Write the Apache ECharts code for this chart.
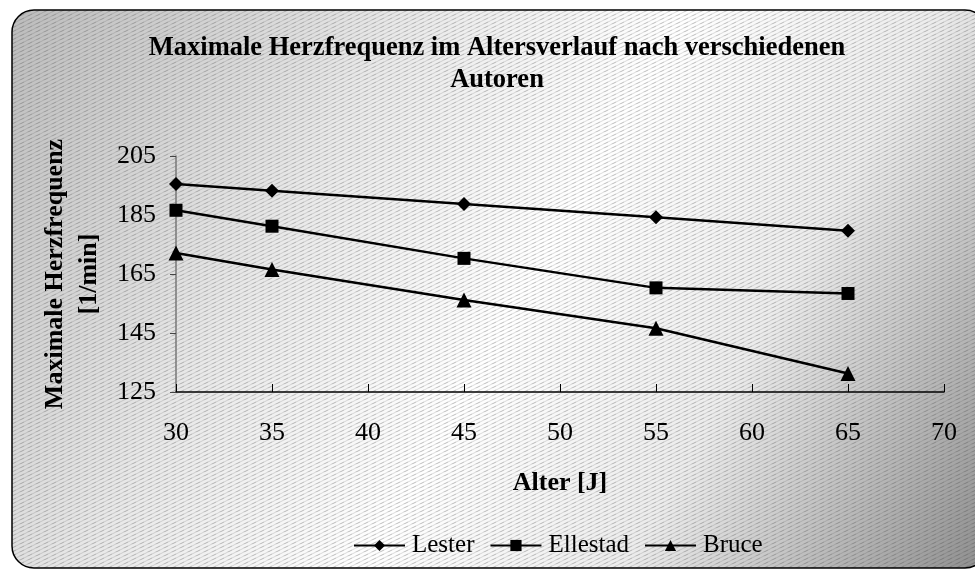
<!DOCTYPE html>
<html>
<head>
<meta charset="utf-8">
<script src="https://cdn.jsdelivr.net/npm/echarts@6/dist/echarts.min.js"></script>
<style>
  html, body { margin: 0; padding: 0; background: #fff; }
  #chart { width: 975px; height: 571px; }
</style>
</head>
<body>
<div id="chart"></div>
<script>
// Alter [J] and max. heart rate per author
const ages = [30, 35, 45, 55, 65]
const lester = [195.5, 193.2, 188.7, 184.2, 179.7]
const ellestad = [186.6, 181.2, 170.3, 160.3, 158.4]
const bruce = [172.1, 166.5, 156.2, 146.6, 131.3]
const seriesNames = ['Lester', 'Ellestad', 'Bruce']
const markers = ['diamond', 'rect', 'triangle']
const markerSizes = [14, 13, 15]

const serif = '"Liberation Serif", "DejaVu Serif", serif'

// hatch tile for the background
function hatchTile() {
  const c = document.createElement('canvas')
  c.width = 8
  c.height = 4
  const ctx = c.getContext('2d')
  ctx.strokeStyle = 'rgba(60,60,60,0.18)'
  ctx.lineWidth = 1
  ctx.beginPath()
  ctx.moveTo(-8, 6); ctx.lineTo(8, -2)
  ctx.moveTo(0, 6); ctx.lineTo(16, -2)
  ctx.moveTo(-8, 10); ctx.lineTo(8, 2)
  ctx.stroke()
  return c
}

const chart = echarts.init(document.getElementById('chart'))

const pairs = [lester, ellestad, bruce].map(vals => vals.map((v, i) => [ages[i], v]))

chart.setOption({
  animation: false,
  graphic: [
    {
      type: 'rect', z: -10, silent: true,
      shape: { x: 12, y: 10, width: 975, height: 558, r: 22 },
      style: {
        fill: new echarts.graphic.LinearGradient(0, 0, 1, 1, [
          { offset: 0, color: '#bcbcbc' },
          { offset: 0.3, color: '#e8e8e8' },
          { offset: 0.52, color: '#ffffff' },
          { offset: 0.72, color: '#ececec' },
          { offset: 1, color: '#8e8e8e' }
        ])
      }
    },
    {
      type: 'rect', z: -9, silent: true,
      shape: { x: 12, y: 10, width: 975, height: 558, r: 22 },
      style: { fill: { image: hatchTile(), repeat: 'repeat' }, stroke: '#000', lineWidth: 1.5 }
    }
  ],
  title: {
    text: 'Maximale Herzfrequenz im Altersverlauf nach verschiedenen\nAutoren',
    left: 492,
    top: 27,
    textAlign: 'center',
    textStyle: { fontFamily: serif, fontSize: 26.5, fontWeight: 'bold', color: '#000', lineHeight: 32 }
  },
  legend: {
    data: seriesNames,
    bottom: 8,
    left: 348,
    itemWidth: 51,
    itemHeight: 14,
    itemGap: 15,
    textStyle: { fontFamily: serif, fontSize: 25, color: '#000', padding: [0, 0, 0, 2] }
  },
  grid: { left: 176, right: 31, top: 156, bottom: 179 },
  xAxis: {
    type: 'value',
    min: 30,
    max: 70,
    interval: 5,
    name: 'Alter [J]',
    nameLocation: 'middle',
    nameGap: 78,
    nameTextStyle: { fontFamily: serif, fontSize: 26, fontWeight: 'bold', color: '#000' },
    axisLine: { lineStyle: { color: '#000', width: 1.5 } },
    axisTick: { inside: true, length: 8, lineStyle: { color: '#000' } },
    axisLabel: { fontFamily: serif, fontSize: 26, color: '#000', margin: 28 },
    splitLine: { show: false }
  },
  yAxis: {
    type: 'value',
    min: 125,
    max: 205,
    interval: 20,
    name: 'Maximale Herzfrequenz\n[1/min]',
    nameLocation: 'middle',
    nameRotate: 90,
    nameGap: 70,
    nameTextStyle: { fontFamily: serif, fontSize: 26, fontWeight: 'bold', color: '#000', lineHeight: 34 },
    axisLine: { show: true, lineStyle: { color: '#777', width: 1.5 } },
    axisTick: { show: true, length: 6, lineStyle: { color: '#444' } },
    axisLabel: { fontFamily: serif, fontSize: 26, color: '#000', margin: 20 },
    splitLine: { show: false }
  },
  series: pairs.map((data, i) => ({
    name: seriesNames[i],
    type: 'line',
    data: data,
    symbol: markers[i],
    symbolSize: markerSizes[i],
    lineStyle: { color: '#000', width: 2.5 },
    itemStyle: { color: '#000' }
  }))
})
</script>
</body>
</html>
